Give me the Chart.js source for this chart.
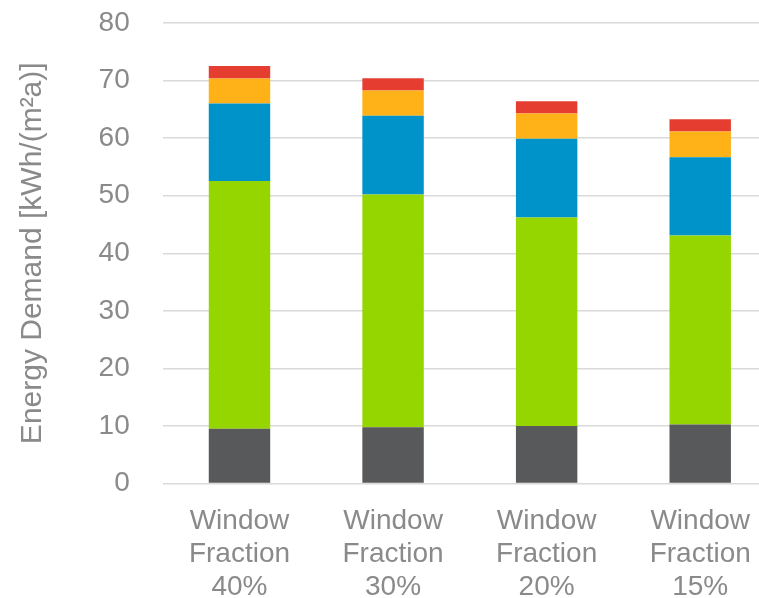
<!DOCTYPE html>
<html>
<head>
<meta charset="utf-8">
<script src="https://cdn.jsdelivr.net/npm/chart.js@4"></script>
<style>
  html, body { margin: 0; padding: 0; background: #ffffff; overflow: hidden; }
  #wrap { width: 777px; height: 598px; }
</style>
</head>
<body>
<div id="wrap"><canvas id="c" width="777" height="598"></canvas></div>
<script>
// Window fraction variants (multi-line category labels)
const categories = [
  ['Window', 'Fraction', '40%'],
  ['Window', 'Fraction', '30%'],
  ['Window', 'Fraction', '20%'],
  ['Window', 'Fraction', '15%']
];

// Stacked energy demand components, kWh/(m²a), bottom to top
const seriesGrey   = [9.53, 9.77, 10.0, 10.23];
const seriesGreen  = [43.04, 40.42, 36.19, 32.84];
const seriesBlue   = [13.43, 13.68, 13.68, 13.62];
const seriesOrange = [4.35, 4.39, 4.4, 4.45];
const seriesRed    = [2.2, 2.16, 2.15, 2.15];

const yTicks = [0, 10, 20, 30, 40, 50, 60, 70, 80];
const yTitle = 'Energy Demand [kWh/(m²a)]';

const textGrey = '#8a8a8a';
const font = 'Liberation Sans, Arial, sans-serif';

function stack(label, data, color) {
  return { label, data, backgroundColor: color, borderWidth: 0, stack: 's' };
}

new Chart(document.getElementById('c'), {
  type: 'bar',
  data: {
    labels: categories,
    datasets: [
      stack('Grey', seriesGrey, '#58595b'),
      stack('Green', seriesGreen, '#95d600'),
      stack('Blue', seriesBlue, '#0093c9'),
      stack('Orange', seriesOrange, '#ffb218'),
      stack('Red', seriesRed, '#e53e30')
    ]
  },
  options: {
    responsive: false,
    animation: false,
    layout: { padding: { top: 23, right: 0, bottom: 0, left: 0 } },
    plugins: { legend: { display: false }, tooltip: { enabled: false } },
    datasets: { bar: { barPercentage: 0.4, categoryPercentage: 1.0 } },
    scales: {
      x: {
        stacked: true,
        grid: { display: false },
        border: { display: false },
        ticks: {
          color: textGrey,
          font: { family: font, size: 28, lineHeight: 1.18 },
          padding: 13,
          maxRotation: 0,
          autoSkip: false
        },
        afterFit(scale) {
          scale.height = 114.5;
          scale.paddingLeft = 0;
          scale.paddingRight = 0;
        }
      },
      y: {
        stacked: true,
        min: 0,
        max: 80,
        afterBuildTicks(scale) { scale.ticks = yTicks.map(v => ({ value: v })); },
        grid: { color: '#d9d9d9', lineWidth: 1.5, drawTicks: false },
        border: { display: false },
        ticks: {
          color: textGrey,
          font: { family: font, size: 28 },
          padding: 33
        },
        title: {
          display: true,
          text: yTitle,
          color: textGrey,
          font: { family: font, size: 30, lineHeight: 1.2 },
          padding: { top: 15, bottom: 0 }
        },
        afterFit(scale) {
          scale.width = 162.7;
          scale.paddingTop = 0;
          scale.paddingBottom = 0;
        }
      }
    }
  }
});
</script>
</body>
</html>
